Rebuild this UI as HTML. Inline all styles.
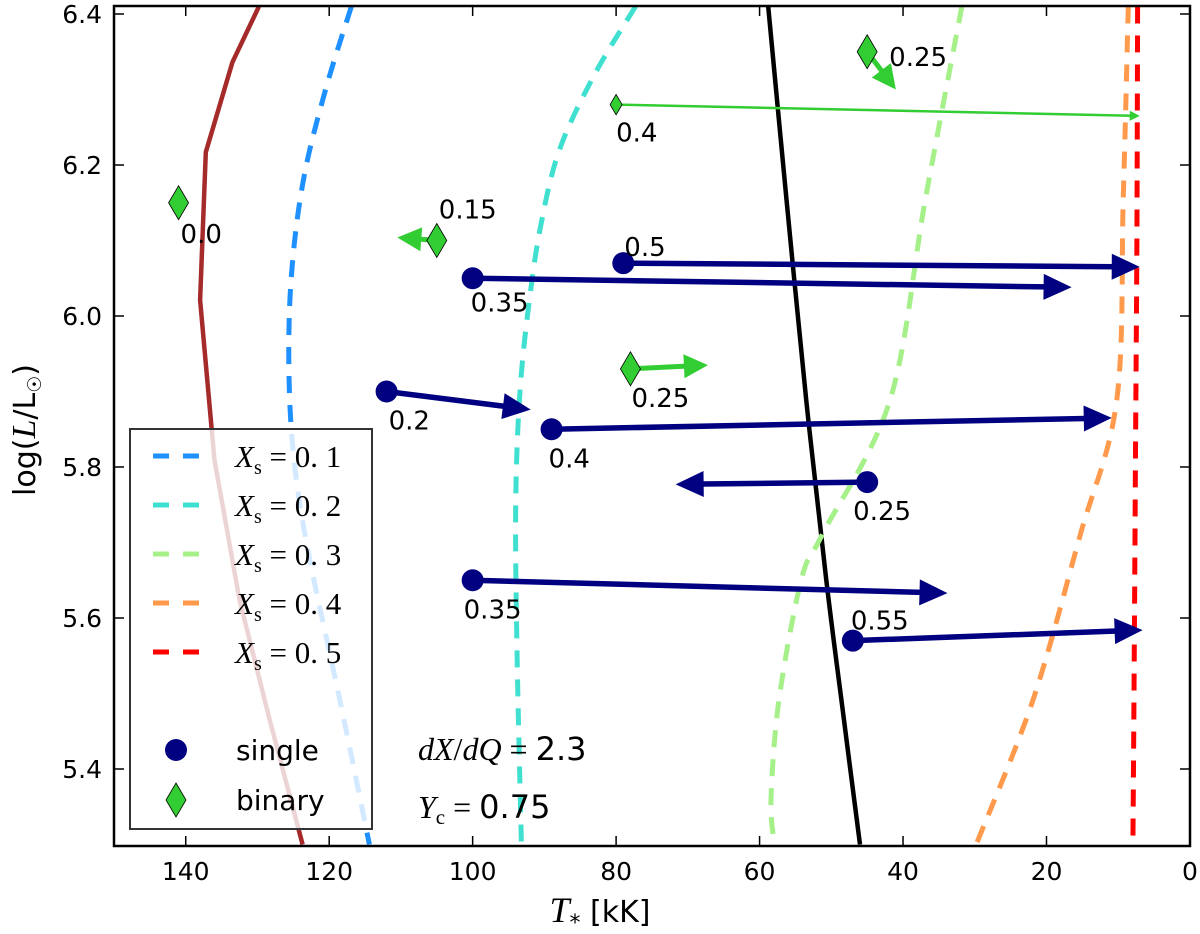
<!DOCTYPE html>
<html><head><meta charset="utf-8"><style>
body{margin:0;background:#fff}
svg{display:block;font-family:"DejaVu Sans","Liberation Sans",sans-serif}
</style></head><body>
<svg id="chart" width="1200" height="934" viewBox="0 0 1200 934" xmlns="http://www.w3.org/2000/svg">
<defs><clipPath id="clip"><rect x="114" y="6" width="1076" height="840"/></clipPath></defs>
<rect x="0" y="0" width="1200" height="934" fill="#fff"/>
<g id="curves" clip-path="url(#clip)"></g>
<g id="marks" clip-path="url(#clip)"></g>
<g id="legend"></g>
<g id="axes"></g>
<text x="418" y="760" font-size="32"><tspan font-family="Liberation Serif,serif" font-style="italic">dX</tspan><tspan font-family="Liberation Serif,serif">/</tspan><tspan font-family="Liberation Serif,serif" font-style="italic">dQ</tspan><tspan font-family="Liberation Serif,serif"> = </tspan>2.3</text>
<text x="418" y="818" font-size="32"><tspan font-family="Liberation Serif,serif" font-style="italic">Y</tspan><tspan font-family="Liberation Serif,serif" font-size="21" dy="6">c</tspan><tspan font-family="Liberation Serif,serif" dy="-6"> = </tspan>0.75</text>
</svg>
<script>
// ---- data ----
const xTicks = [140,120,100,80,60,40,20,0];
const yTicks = [5.4,5.6,5.8,6.0,6.2,6.4];
const brownT = [129.8,133.5,137.2,138.0,136.0,132.5,128.3,123.7];
const brownL = [6.41,6.336,6.217,6.021,5.81,5.624,5.465,5.3];
const blackT = [58.8,56.2,53.5,50.7,48.3,46.0];
const blackL = [6.41,6.15,5.889,5.65,5.47,5.3];
const xs1T = [116.9,120.5,123.6,125.3,125.6,124.8,122.7,118.5,114.4];
const xs1L = [6.41,6.30,6.18,6.05,5.92,5.80,5.677,5.491,5.3];
const xs2T = [77.3,83.0,87.9,90.5,92.1,93.4,94.0,93.8,93.2];
const xs2L = [6.41,6.32,6.22,6.12,6.02,5.90,5.75,5.55,5.3];
const xs3T = [31.8,36.9,41.8,51.3,54.2,57.3,58.4,57.9];
const xs3L = [6.41,6.154,5.889,5.71,5.65,5.491,5.359,5.3];
const xs4T = [8.6,9.3,10.2,15.3,21.9,29.8];
const xs4L = [6.41,6.154,5.889,5.71,5.491,5.3];
const xs5T = [7.3,7.4,7.6,7.8,7.95];
const xs5L = [6.41,6.1,5.8,5.5,5.3];
const singleT = [79,100,112,89,45,100,47];
const singleL = [6.07,6.05,5.90,5.85,5.78,5.65,5.57];
const singleEndT = [7,16.5,91.9,10.9,71.7,33.8,6.6];
const singleEndL = [6.065,6.038,5.876,5.865,5.777,5.633,5.584];
const singleLabels = ["0.5","0.35","0.2","0.4","0.25","0.35","0.55"];
const binaryT = [141,105,80,45,78];
const binaryL = [6.15,6.10,6.28,6.35,5.93];
const binaryEndT = [null,110.5,7,41,67.2];
const binaryEndL = [null,6.104,6.265,6.30,5.935];
const binaryLabels = ["0.0","0.15","0.4","0.25","0.25"];
// ---- label offsets (style) ----
const sOff = [[1,-7],[-2,33],[2,38],[-3,38],[-14,38],[-9,38],[-2,-11]];
const bOff = [[2,40],[2,-22],[0,37],[22,14],[1,38]];

const X = t => 114 + (150 - t) * 7.173;
const Y = l => 14 + (6.4 - l) * 755;
const NS = "http://www.w3.org/2000/svg";
function mk(tag, attrs, parent){const e=document.createElementNS(NS,tag);for(const k in attrs)e.setAttribute(k,attrs[k]);parent.appendChild(e);return e;}
const curves=document.getElementById('curves'), marks=document.getElementById('marks'), legend=document.getElementById('legend'), axes=document.getElementById('axes');

function smoothPath(P){
  let d='M'+P[0][0].toFixed(1)+','+P[0][1].toFixed(1);
  for(let i=0;i<P.length-1;i++){
    const p0=P[Math.max(0,i-1)],p1=P[i],p2=P[i+1],p3=P[Math.min(P.length-1,i+2)];
    const c1=[p1[0]+(p2[0]-p0[0])/6,p1[1]+(p2[1]-p0[1])/6];
    const c2=[p2[0]-(p3[0]-p1[0])/6,p2[1]-(p3[1]-p1[1])/6];
    d+=` C${c1[0].toFixed(1)},${c1[1].toFixed(1)} ${c2[0].toFixed(1)},${c2[1].toFixed(1)} ${p2[0].toFixed(1)},${p2[1].toFixed(1)}`;
  }
  return d;
}
function curve(T,L,color,dash,w,name,smooth){
  const P=T.map((t,i)=>[X(t),Y(L[i])]);
  let p;
  if(smooth){
    p=mk('path',{d:smoothPath(P),fill:'none',stroke:color,'stroke-width':w,'stroke-dasharray':dash||'none'},curves);
  } else {
    p=mk('polyline',{points:P.map(q=>q[0].toFixed(1)+','+q[1].toFixed(1)).join(' '),fill:'none',stroke:color,'stroke-width':w,'stroke-linejoin':'round'},curves);
  }
  
  
}
curve(brownT,brownL,'#a52a2a',null,4.5,'zams-curve',false);
curve(blackT,blackL,'#000',null,4.5,'black-curve',true);
curve(xs1T,xs1L,'#1e90ff','17,12',5,'xs-0.1-curve',true);
curve(xs2T,xs2L,'#40e0d0','17,12',5,'xs-0.2-curve',true);
curve(xs3T,xs3L,'#a6f08a','17,12',5,'xs-0.3-curve',true);
curve(xs4T,xs4L,'#ff9a4d','17,12',5,'xs-0.4-curve',true);
curve(xs5T,xs5L,'#ff0000','17,12',5,'xs-0.5-curve',true);

function arrow(x1,y1,x2,y2,color,w,hl,hw,name){
  const dx=x2-x1, dy=y2-y1, len=Math.hypot(dx,dy), ux=dx/len, uy=dy/len;
  const bx=x2-ux*hl, by=y2-uy*hl;
  const g=mk('g',{},marks);
  
  
  mk('line',{x1:x1,y1:y1,x2:bx+ux*2,y2:by+uy*2,stroke:color,'stroke-width':w},g);
  mk('polygon',{points:`${x2},${y2} ${bx-uy*hw},${by+ux*hw} ${bx+uy*hw},${by-ux*hw}`,fill:color},g);
}
singleT.forEach((t,i)=>{
  arrow(X(t),Y(singleL[i]),X(singleEndT[i]),Y(singleEndL[i]),'#000080',5.5,28,13,'single-arrow');
});
singleT.forEach((t,i)=>{
  const c=mk('circle',{cx:X(t),cy:Y(singleL[i]),r:11,fill:'#000080'},marks);
  
  
  const tx=mk('text',{x:X(t)+sOff[i][0],y:Y(singleL[i])+sOff[i][1],'font-size':26},marks);
  tx.textContent=singleLabels[i];
  
  
});
binaryT.forEach((t,i)=>{
  if(binaryEndT[i]!==null){
    const thin = i===2;
    arrow(X(t),Y(binaryL[i]),X(binaryEndT[i]),Y(binaryEndL[i]),'#32cd32',thin?2.5:5,thin?10:24,thin?5:12,'binary-arrow');
  }
});
binaryT.forEach((t,i)=>{
  const cx=X(t), cy=Y(binaryL[i]); const s = i===2?0.6:1;
  const d=mk('polygon',{points:`${cx},${cy-17*s} ${cx+10*s},${cy} ${cx},${cy+17*s} ${cx-10*s},${cy}`,fill:'#32cd32',stroke:'#000','stroke-width':0.8},marks);
  
  
  const tx=mk('text',{x:cx+bOff[i][0],y:cy+bOff[i][1],'font-size':26},marks);
  tx.textContent=binaryLabels[i];
  
  
});

// legend
mk('rect',{x:130,y:429,width:242,height:400,fill:'#fff','fill-opacity':0.8,stroke:'#333','stroke-width':2},legend);
const legColors=['#1e90ff','#40e0d0','#a6f08a','#ff9a4d','#ff0000'];
const legVals=['0.1','0.2','0.3','0.4','0.5'];
legColors.forEach((c,i)=>{
  const y=456+i*49;
  const g=mk('g',{},legend);
  
  
  mk('line',{x1:153,y1:y,x2:200,y2:y,stroke:c,'stroke-width':5,'stroke-dasharray':'16,14'},g);
  const t=mk('text',{x:235,y:y+11,'font-size':31,'font-family':'Liberation Serif,serif'},g);
  t.innerHTML='<tspan font-style="italic">X</tspan><tspan font-size="20" dy="7">s</tspan><tspan dy="-7"> = 0. '+legVals[i].slice(2)+'</tspan>';
});
{
  const g=mk('g',{},legend);
  
  
  mk('circle',{cx:176,cy:750,r:11,fill:'#000080'},g);
  const t=mk('text',{x:236,y:760,'font-size':28},g); t.textContent='single';
  const g2=mk('g',{},legend);
  
  
  mk('polygon',{points:'176,783 186,800 176,817 166,800',fill:'#32cd32',stroke:'#000','stroke-width':0.8},g2);
  const t2=mk('text',{x:236,y:810,'font-size':28},g2); t2.textContent='binary';
}

// axes
mk('rect',{x:114,y:6,width:1076,height:840,fill:'none',stroke:'#000','stroke-width':2.5},axes);
xTicks.forEach(v=>{
  const x=X(v);
  mk('line',{x1:x,y1:846,x2:x,y2:836,stroke:'#000','stroke-width':1.5},axes);
  mk('line',{x1:x,y1:6,x2:x,y2:16,stroke:'#000','stroke-width':1.5},axes);
  const t=mk('text',{x:x,y:880,'font-size':25,'text-anchor':'middle'},axes); t.textContent=v;
  
  
});
yTicks.forEach(v=>{
  const y=Y(v);
  mk('line',{x1:114,y1:y,x2:124,y2:y,stroke:'#000','stroke-width':1.5},axes);
  mk('line',{x1:1190,y1:y,x2:1180,y2:y,stroke:'#000','stroke-width':1.5},axes);
  const t=mk('text',{x:102,y:y+9,'font-size':25,'text-anchor':'end'},axes); t.textContent=v.toFixed(1);
  
  
});
const xl=mk('text',{x:600,y:922,'font-size':30,'text-anchor':'middle'},axes);
xl.innerHTML='<tspan font-family="Liberation Serif,serif" font-style="italic" font-size="36">T</tspan><tspan font-size="22" dy="8">*</tspan><tspan dy="-8"> [kK]</tspan>';


const yl=mk('text',{x:0,y:0,'font-size':30,'text-anchor':'middle',transform:'translate(35,430) rotate(-90)'},axes);
yl.innerHTML='log(<tspan font-family="Liberation Serif,serif" font-style="italic" font-size="34">L</tspan>/L<tspan font-size="19" dy="6">☉</tspan><tspan dy="-6">)</tspan>';


</script>
</body></html>
